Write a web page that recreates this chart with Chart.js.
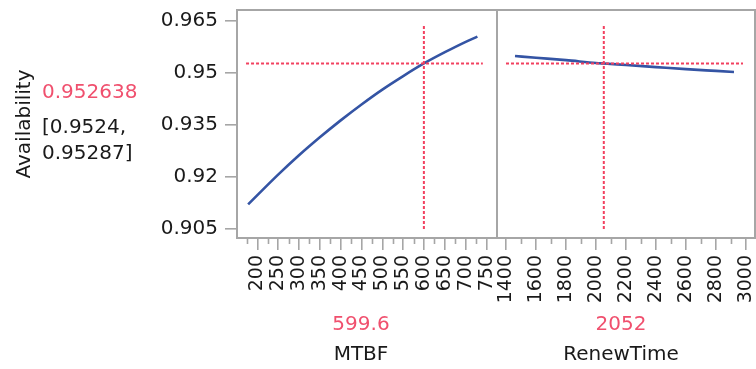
<!DOCTYPE html>
<html>
<head>
<meta charset="utf-8">
<script src="https://cdn.jsdelivr.net/npm/chart.js@4.4.1/dist/chart.umd.min.js"></script>
<style>
  html,body{margin:0;padding:0;background:#fff;}
  #wrap{position:relative;width:756px;height:369px;overflow:hidden;font-family:'DejaVu Sans',sans-serif;color:#1a1a1a;}
  canvas{position:absolute;top:0;}
  .txt{position:absolute;font-size:20px;line-height:26px;white-space:nowrap;}
  .red{color:#f0506e;}
  .ctr{width:200px;text-align:center;line-height:20px;}
  #ylab{left:-33px;top:111px;width:112px;text-align:center;transform:rotate(-90deg);}
</style>
</head>
<body>
<div id="wrap">
  <canvas id="cMtbf" width="498" height="369" style="left:0"></canvas>
  <canvas id="cRenew" width="260" height="369" style="left:496px"></canvas>
  <div class="txt" id="ylab">Availability</div>
  <div class="txt red" style="left:42px;top:78px">0.952638</div>
  <div class="txt" style="left:42px;top:113px">[0.9524,</div>
  <div class="txt" style="left:42px;top:139px">0.95287]</div>
  <div class="txt red ctr" style="left:261px;top:313px">599.6</div>
  <div class="txt ctr" style="left:261px;top:343px">MTBF</div>
  <div class="txt red ctr" style="left:521px;top:313px">2052</div>
  <div class="txt ctr" style="left:521px;top:343px">RenewTime</div>
</div>
<script>
// profiler values
const yTicks = [0.905, 0.92, 0.935, 0.95, 0.965];
const yTickLabels = ["0.905", "0.92", "0.935", "0.95", "0.965"];
const yMin = 0.9022, yMax = 0.9681;

const mtbfTicks = [200, 250, 300, 350, 400, 450, 500, 550, 600, 650, 700, 750];
const mtbfMinor = [175, 225, 275, 325, 375, 425, 475, 525, 575, 625, 675, 725];
const mtbfX = [178, 250, 300, 350, 400, 450, 500, 550, 599.6, 650, 700, 728];
const mtbfAvail = [0.9119, 0.9205, 0.9261, 0.9313, 0.9362, 0.9408, 0.9451, 0.9490, 0.952638, 0.9559, 0.9589, 0.9604];

const renewTicks = [1400, 1600, 1800, 2000, 2200, 2400, 2600, 2800, 3000];
const renewMinor = [1500, 1700, 1900, 2100, 2300, 2500, 2700, 2900];
const renewX = [1460, 1600, 1800, 2000, 2052, 2200, 2400, 2600, 2800, 2920];
const renewAvail = [0.9548, 0.9543, 0.9536, 0.9528, 0.952638, 0.9522, 0.9516, 0.9510, 0.9505, 0.9502];

const currentAvail = 0.952638;
const currentMtbf = 599.6;
const currentRenew = 2052;
const crossY = [0.9048, 0.9636];
const mtbfCrossX = [173, 741];
const renewCrossX = [1400, 2980];

const BLUE = "#3454a4";
const RED = "#f2405f";
const GRAY = "#a6a6a6";

Chart.defaults.font.family = "'DejaVu Sans', sans-serif";
Chart.defaults.color = "#1a1a1a";

function pts(xs, ys){
  return xs.map((x,i)=>({x, y: ys[i]}));
}

// frame round the plot area + short minor ticks under it
const frameTicks = {
  id: "frameTicks",
  afterDraw(chart, args, opts){
    const {ctx, chartArea: a} = chart;
    const xs = chart.scales.x;
    ctx.save();
    ctx.strokeStyle = GRAY;
    ctx.lineWidth = 1.6;
    ctx.beginPath();
    (opts.minor||[]).forEach(v=>{
      const px = Math.round(xs.getPixelForValue(v)) + 0.5;
      ctx.moveTo(px, a.bottom);
      ctx.lineTo(px, a.bottom + 6);
    });
    ctx.stroke();
    ctx.lineWidth = 2;
    ctx.strokeRect(a.left, a.top, a.right - a.left, a.bottom - a.top);
    ctx.restore();
  }
};

function makePanel(id, opt){
  return new Chart(document.getElementById(id), {
    type: "line",
    data: {
      datasets: [
        { data: pts(opt.hx, [currentAvail, currentAvail]), borderColor: RED, borderWidth: 2, borderDash: [3,2], pointRadius: 0 },
        { data: pts([opt.cur, opt.cur], crossY), borderColor: RED, borderWidth: 2, borderDash: [3,2], pointRadius: 0 },
        { data: pts(opt.xs, opt.ys), borderColor: BLUE, borderWidth: 2.6, pointRadius: 0, cubicInterpolationMode: "monotone" },
      ],
    },
    options: {
      responsive: false,
      animation: false,
      events: [],
      layout: { padding: { top: 10, right: 1, left: opt.padLeft, bottom: 0 } },
      plugins: { legend: { display: false }, tooltip: { enabled: false }, frameTicks: { minor: opt.minor } },
      scales: {
        x: {
          type: "linear", min: opt.min, max: opt.max,
          afterBuildTicks: s=>{ s.ticks = opt.ticks.map(v=>({value: v})); },
          afterFit: s=>{ s.height = 131; s.paddingLeft = 0; s.paddingRight = 0; },
          ticks: { autoSkip: false, minRotation: 90, maxRotation: 90, padding: 5, font: { size: 19 }, color: "#1a1a1a", callback: v=>String(v) },
          grid: { drawOnChartArea: false, tickLength: 12, color: GRAY, lineWidth: 1.6 },
          border: { display: false },
        },
        y: {
          display: opt.showY, min: yMin, max: yMax,
          afterBuildTicks: s=>{ s.ticks = yTicks.map(v=>({value: v})); },
          afterFit: s=>{ if(opt.showY) s.width = 237; s.paddingTop = 0; s.paddingBottom = 0; },
          ticks: { padding: 7, font: { size: 20 }, color: "#1a1a1a", callback: (v)=>yTickLabels[yTicks.indexOf(v)] },
          grid: { drawOnChartArea: false, tickLength: 12, color: GRAY, lineWidth: 1.6 },
          border: { display: false },
        },
      },
    },
    plugins: [frameTicks],
  });
}

makePanel("cMtbf", {
  xs: mtbfX, ys: mtbfAvail, ticks: mtbfTicks, minor: mtbfMinor,
  min: 151.3, max: 775, cur: currentMtbf, hx: mtbfCrossX, showY: true, padLeft: 0,
});
makePanel("cRenew", {
  xs: renewX, ys: renewAvail, ticks: renewTicks, minor: renewMinor,
  min: 1340, max: 3060, cur: currentRenew, hx: renewCrossX, showY: false, padLeft: 1,
});
</script>
</body>
</html>
